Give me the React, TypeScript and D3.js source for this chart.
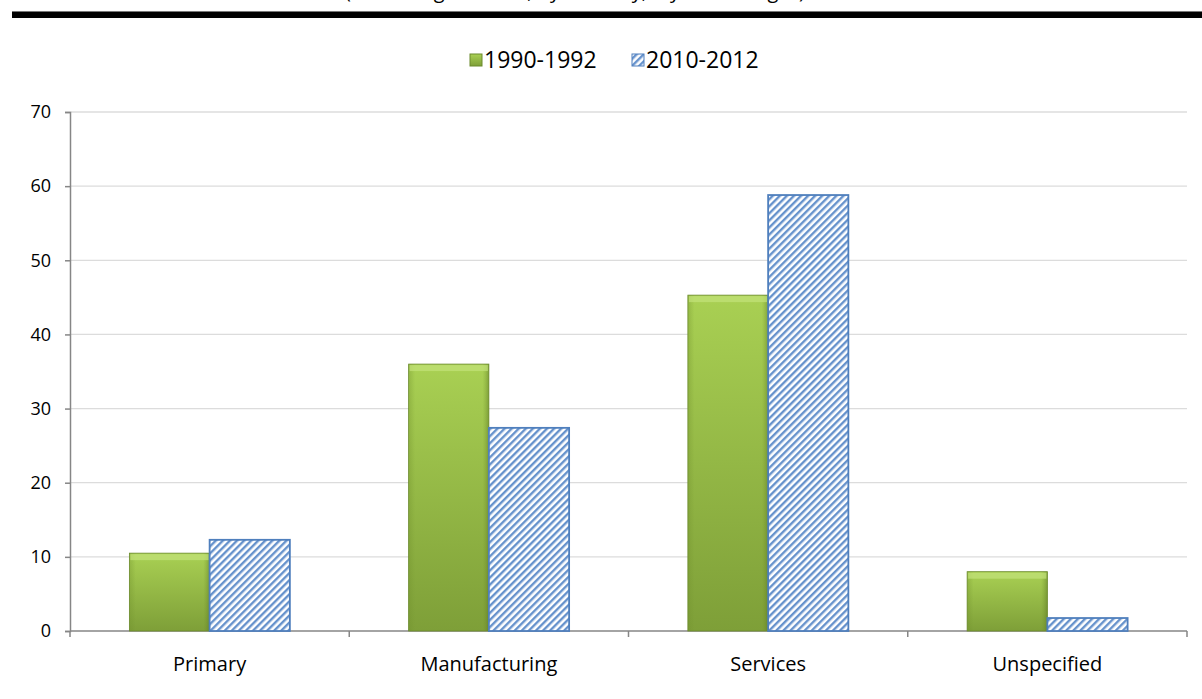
import { useRef, useEffect } from "react";
import * as d3 from "d3";

const categories = ["Primary", "Manufacturing", "Services", "Unspecified"];
const seriesNames = ["1990-1992", "2010-2012"];
const values1990 = [10.5, 36.0, 45.3, 8.0];
const values2010 = [12.3, 27.4, 58.8, 1.75];
const yTicks = [0, 10, 20, 30, 40, 50, 60, 70];

const W = 1202;
const H = 699;
const FONT = "'Open Sans', 'Noto Sans', sans-serif";

const App = () => {
  const svgRef = useRef<SVGSVGElement | null>(null);

  useEffect(() => {
    if (!svgRef.current) return;
    const svg = d3.select(svgRef.current);
    svg.selectAll("*").remove();

    const margin = { top: 112, right: 15, bottom: 68, left: 70 };
    const innerW = W - margin.left - margin.right;
    const innerH = H - margin.top - margin.bottom;

    const defs = svg.append("defs");
    const gGreen = defs
      .append("linearGradient")
      .attr("id", "green")
      .attr("x1", 0)
      .attr("y1", 0)
      .attr("x2", 0)
      .attr("y2", 1);
    gGreen.append("stop").attr("offset", "0%").attr("stop-color", "#a9d053");
    gGreen.append("stop").attr("offset", "100%").attr("stop-color", "#7e9f38");

    const gGreenSide = defs
      .append("linearGradient")
      .attr("id", "greenSide")
      .attr("x1", 0)
      .attr("y1", 0)
      .attr("x2", 1)
      .attr("y2", 0);
    gGreenSide.append("stop").attr("offset", "0%").attr("stop-color", "#6f8f2c").attr("stop-opacity", 0.35);
    gGreenSide.append("stop").attr("offset", "8%").attr("stop-color", "#6f8f2c").attr("stop-opacity", 0);
    gGreenSide.append("stop").attr("offset", "92%").attr("stop-color", "#6f8f2c").attr("stop-opacity", 0);
    gGreenSide.append("stop").attr("offset", "100%").attr("stop-color", "#4f6a1c").attr("stop-opacity", 0.45);

    const pat = defs
      .append("pattern")
      .attr("id", "hatch")
      .attr("patternUnits", "userSpaceOnUse")
      .attr("width", 5)
      .attr("height", 5)
      .attr("patternTransform", "rotate(45)");
    pat.append("rect").attr("width", 5).attr("height", 5).attr("fill", "#ffffff");
    pat.append("rect").attr("width", 2.4).attr("height", 5).attr("fill", "#6692cc");

    // title remnant and rule at top
    svg
      .append("text")
      .attr("x", 575)
      .attr("y", -2)
      .attr("text-anchor", "middle")
      .attr("font-family", FONT)
      .attr("font-size", 20)
      .attr("fill", "#000")
      .text("(Percentage of total, by industry, 3-year averages)");
    svg.append("rect").attr("x", 12).attr("y", 12).attr("width", W - 12).attr("height", 6).attr("fill", "#000");
    svg.append("rect").attr("x", 12).attr("y", 11).attr("width", W - 12).attr("height", 1).attr("fill", "#777");

    const x0 = d3.scaleBand().domain(categories).range([0, innerW]).paddingInner(0).paddingOuter(0);
    const x1 = d3
      .scaleBand()
      .domain(seriesNames)
      .range([0, x0.bandwidth()])
      .paddingInner(0)
      .paddingOuter(0.74);
    const y = d3.scaleLinear().domain([0, 70]).range([innerH, 0]);

    const g = svg.append("g").attr("transform", `translate(${margin.left},${margin.top})`);

    // gridlines
    g.append("g")
      .selectAll("line")
      .data(yTicks.filter((t) => t > 0))
      .join("line")
      .attr("x1", 0)
      .attr("x2", innerW)
      .attr("y1", (d) => y(d))
      .attr("y2", (d) => y(d))
      .attr("stroke", "#dcdcdc")
      .attr("stroke-width", 1.3);

    // y axis
    const yAxis = g.append("g").call(d3.axisLeft(y).tickValues(yTicks).tickSize(5).tickPadding(14));
    yAxis.select(".domain").attr("stroke", "#868686").attr("stroke-width", 1.5);
    yAxis.selectAll(".tick line").attr("stroke", "#868686").attr("stroke-width", 1.5);
    yAxis
      .selectAll("text")
      .attr("font-family", FONT)
      .attr("font-size", 18)
      .attr("fill", "#000");

    // x axis
    const xAxisG = g.append("g").attr("transform", `translate(0,${innerH})`);
    xAxisG
      .append("line")
      .attr("x1", 0)
      .attr("x2", innerW)
      .attr("stroke", "#868686")
      .attr("stroke-width", 1.5);
    xAxisG
      .selectAll("line.tk")
      .data(categories)
      .join("line")
      .attr("class", "tk")
      .attr("x1", (d) => (x0(d) as number) + x0.bandwidth())
      .attr("x2", (d) => (x0(d) as number) + x0.bandwidth())
      .attr("y1", 0)
      .attr("y2", 6)
      .attr("stroke", "#868686")
      .attr("stroke-width", 1.5);
    xAxisG
      .append("line")
      .attr("x1", 0)
      .attr("x2", 0)
      .attr("y1", 0)
      .attr("y2", 6)
      .attr("stroke", "#868686")
      .attr("stroke-width", 1.5);
    xAxisG
      .selectAll("text")
      .data(categories)
      .join("text")
      .attr("x", (d) => (x0(d) as number) + x0.bandwidth() / 2)
      .attr("y", 40)
      .attr("text-anchor", "middle")
      .attr("font-family", FONT)
      .attr("font-size", 20)
      .attr("fill", "#000")
      .text((d) => d);

    const bars = g.append("g");
    categories.forEach((c, i) => {
      const gx = x0(c) as number;
      const bw = x1.bandwidth();
      // green
      const xa = gx + (x1(seriesNames[0]) as number);
      const ya = y(values1990[i]);
      const ha = innerH - ya;
      bars.append("rect").attr("x", xa).attr("y", ya).attr("width", bw).attr("height", ha).attr("fill", "url(#green)");
      bars.append("rect").attr("x", xa).attr("y", ya).attr("width", bw).attr("height", ha).attr("fill", "url(#greenSide)");
      bars
        .append("rect")
        .attr("x", xa + 1)
        .attr("y", ya + 1)
        .attr("width", bw - 2)
        .attr("height", Math.min(6, ha))
        .attr("fill", "#c3e27a")
        .attr("opacity", 0.7);
      bars
        .append("rect")
        .attr("x", xa)
        .attr("y", ya)
        .attr("width", bw)
        .attr("height", ha)
        .attr("fill", "none")
        .attr("stroke", "#6b8a2c")
        .attr("stroke-width", 0.8);
      // blue hatch
      const xb = gx + (x1(seriesNames[1]) as number);
      const yb = y(values2010[i]);
      const hb = innerH - yb;
      bars
        .append("rect")
        .attr("x", xb)
        .attr("y", yb)
        .attr("width", bw)
        .attr("height", hb)
        .attr("fill", "url(#hatch)")
        .attr("stroke", "#4f7fbd")
        .attr("stroke-width", 1.8);
    });

    // legend
    const legend = svg.append("g").attr("transform", "translate(0,60)");
    const items = [
      { name: seriesNames[0], fill: "url(#green)", stroke: "#6b8a2c", x: 470 },
      { name: seriesNames[1], fill: "url(#hatch)", stroke: "#4f7fbd", x: 632 },
    ];
    items.forEach((it) => {
      legend
        .append("rect")
        .attr("x", it.x)
        .attr("y", -6)
        .attr("width", 12)
        .attr("height", 12)
        .attr("fill", it.fill)
        .attr("stroke", it.stroke)
        .attr("stroke-width", 1);
      legend
        .append("text")
        .attr("x", it.x + 14)
        .attr("y", 8)
        .attr("font-family", FONT)
        .attr("font-size", 23)
        .attr("fill", "#000")
        .text(it.name);
    });
  }, []);

  return (
    <div style={{ position: "absolute", left: 0, top: 0, width: W, height: H, background: "#fff" }}>
      <svg ref={svgRef} width={W} height={H}></svg>
    </div>
  );
};

export default App;
